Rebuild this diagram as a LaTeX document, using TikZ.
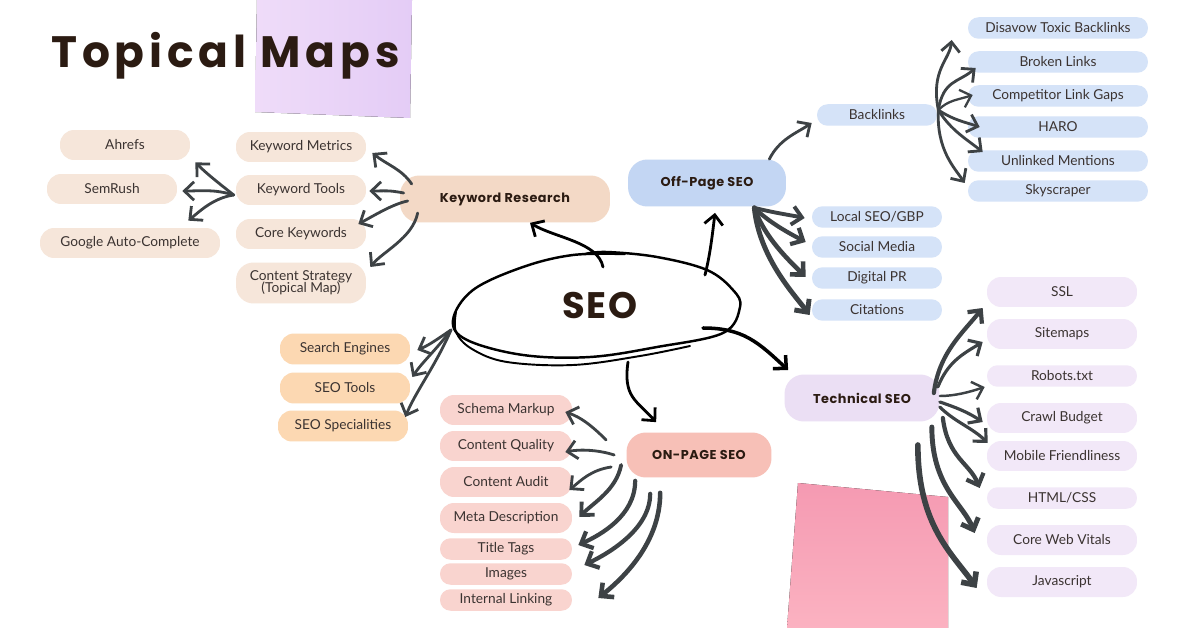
\documentclass[tikz,border=0pt]{standalone}
\usepackage{fontspec}
\setmainfont{Lato}
\newfontfamily\popfont[LetterSpace=4]{Poppins}
\newfontfamily\headfont[LetterSpace=11]{Poppins}
\usetikzlibrary{arrows.meta,shapes.geometric}
\definecolor{cInk}{HTML}{2B1B12}
\definecolor{cTxt}{HTML}{3B3331}
\definecolor{cArr}{HTML}{3D4245}
\definecolor{cKw}{HTML}{F3D9C6}
\definecolor{cKwI}{HTML}{F6E6DA}
\definecolor{cOrg}{HTML}{FCD8B2}
\definecolor{cOff}{HTML}{C3D6F3}
\definecolor{cOffI}{HTML}{D5E3F8}
\definecolor{cTec}{HTML}{EBDFF4}
\definecolor{cTecI}{HTML}{F2E8F8}
\definecolor{cOn}{HTML}{F7C0B7}
\definecolor{cOnI}{HTML}{F9D4CF}
\definecolor{cLilacL}{HTML}{EFDCF9}
\definecolor{cLilacR}{HTML}{E4CCF6}
\definecolor{cRoseT}{HTML}{F59AB2}
\definecolor{cRoseB}{HTML}{FBB2C1}

\begin{document}
\begin{tikzpicture}[x=0.02cm, y=-0.02cm,
  font=\fontsize{7.8}{8}\selectfont,
  pill/.style  = {rounded corners=8pt, minimum height=6mm, inner sep=1pt, text=cTxt},
  rowS/.style  = {minimum height=4.3mm, rounded corners=6pt},
  hub/.style   = {rounded corners=11pt, minimum height=9.4mm, inner sep=1pt,
                  font=\popfont\bfseries\fontsize{7.3}{8}\selectfont, text=cInk},
  ar/.style    = {-{Straight Barb[length=5.5pt,width=10.5pt]}, draw=cArr, line width=1.6pt,
                  line cap=round, line join=round},
  bk/.style    = {ar, draw=black},
]
\useasboundingbox[fill=white] (0,0) rectangle (1200,628);

% sticky notes
\fill[left color=cLilacL, right color=cLilacR] (257,0) -- (412,0) -- (410,118) -- (255,112) -- cycle;
\fill[top color=cRoseT, bottom color=cRoseB] (798,483) -- (948,497) -- (948,628) -- (787,628) -- cycle;

\node[anchor=base west, inner sep=0, text=cInk,
      font=\headfont\bfseries\fontsize{25}{28}\selectfont] (ttl) at (51,68) {Topical Maps};

% centre
\node[ellipse, minimum width=5.8cm, minimum height=1.8cm, text=cInk,
      font=\popfont\bfseries\fontsize{21}{22}\selectfont] (seo) at (600,305) {SEO};
\draw[line width=1.4pt, line cap=round] plot[smooth, tension=0.6] coordinates {
  (625,254) (573,255) (523,267) (473,290) (453,320) (467,340) (523,355) (590,357)
  (657,347) (723,333) (740,307) (733,290) (707,270) (657,257) (607,252) (585,254)};
\draw[line width=1.1pt, line cap=round] plot[smooth, tension=0.6] coordinates {
  (456,312) (456,332) (472,349) (507,362) (573,365) (640,356) (690,346)};

% hubs
\node[hub, fill=cKw,  minimum width=4.2cm]  (kr)     at (505,199) {Keyword Research};
\node[hub, fill=cOff, minimum width=3.16cm] (off)    at (707,183) {Off-Page SEO};
\node[hub, fill=cTec, minimum width=3.1cm]  (tech)   at (862,398) {Technical SEO};
\node[hub, fill=cOn,  minimum width=2.9cm, minimum height=9mm] (onpage) at (699,455) {ON-PAGE SEO};

% keyword research
\foreach \n/\y/\t in {kmet/147/Keyword Metrics, ktool/190/Keyword Tools, kcore/234/Core Keywords}
  \node[pill, fill=cKwI, minimum width=2.6cm] (\n) at (301,\y) {\t};
\node[pill, fill=cKwI, minimum width=2.6cm, minimum height=8.2mm, rounded corners=10pt,
      align=center] (kstrat) at (301,283) {Content Strategy\\[-1pt](Topical Map)};
\foreach \n/\x/\y/\w/\t in {ahrefs/125/145/2.6/Ahrefs, semrush/112/189/2.6/SemRush,
                            google/130/243/3.6/Google Auto-Complete}
  \node[pill, fill=cKwI, minimum width=\w cm] (\n) at (\x,\y) {\t};

% search basics
\foreach \n/\x/\y/\t in {search/345/349/Search Engines, seotools/345/388/SEO Tools, special/343/426/SEO Specialities}
  \node[pill, fill=cOrg, minimum width=2.6cm, minimum height=6.2mm] (\n) at (\x,\y) {\t};

% off-page
\node[pill, rowS, fill=cOffI, minimum width=2.4cm] (backl) at (877,115) {Backlinks};
\foreach \n/\y/\t in {disavow/28/Disavow Toxic Backlinks, broken/62/Broken Links,
                      compet/96/Competitor Link Gaps, haro/127/HARO,
                      unlink/161/Unlinked Mentions, sky/191/Skyscraper}
  \node[pill, rowS, fill=cOffI, minimum width=3.6cm] (\n) at (1058,\y) {\t};
\foreach \n/\y/\t in {local/217/{Local SEO/GBP}, social/247/Social Media,
                      digital/278/Digital PR, cites/310/Citations}
  \node[pill, rowS, fill=cOffI, minimum width=2.6cm] (\n) at (877,\y) {\t};

% technical
\foreach \n/\y/\s/\t in {ssl/292/pill/SSL, sitemaps/334/pill/Sitemaps, robots/376/rowS/Robots.txt,
                         crawl/418/pill/Crawl Budget, mobile/456/pill/Mobile Friendliness,
                         html/498/rowS/{HTML/CSS}, cwv/540/pill/Core Web Vitals, js/582/pill/Javascript}
  \node[pill, \s, fill=cTecI, minimum width=3cm] (\n) at (1062,\y) {\t};

% on-page
\foreach \n/\y/\s/\t in {schema/410/pill/Schema Markup, quality/446/pill/Content Quality,
                         audit/482/pill/Content Audit, meta/518/pill/Meta Description,
                         ttags/549/rowS/Title Tags, images/574/rowS/Images, intlink/600/rowS/Internal Linking}
  \node[pill, \s, fill=cOnI, minimum width=2.64cm] (\n) at (506,\y) {\t};

% arrows out of the centre
\draw[bk] ([shift={(3,-38)}]seo.center) .. controls +(-5,-25) and +(25,15) .. ([shift={(25,0)}]kr.south);
\draw[bk] ([shift={(105,-30)}]seo.center) .. controls +(5,-20) and +(-3,25) .. ([shift={(8,6)}]off.south);
\draw[bk, line width=2pt] ([shift={(103,23)}]seo.center) .. controls +(40,0) and +(-30,-28) .. ([shift={(4,-4)}]tech.north west);
\draw[bk] ([shift={(28,57)}]seo.center) .. controls +(-5,35) and +(-20,-22) .. ([shift={(30,-10)}]onpage.north west);
\draw[ar] ([shift={(-149,25)}]seo.center) .. controls +(-15,10) and +(12,-5) .. ([shift={(7,1)}]search.east);
\draw[ar] ([shift={(-149,25)}]seo.center) .. controls +(-15,20) and +(10,-15) .. ([shift={(2,-11)}]seotools.east);
\draw[ar] ([shift={(-149,25)}]seo.center) .. controls +(-15,35) and +(10,-25) .. ([shift={(-3,-9)}]special.east);

% keyword research
\draw[ar] ([shift={(12,-15)}]kr.west) .. controls +(-10,-15) and +(15,12) .. ([shift={(6,6)}]kmet.east);
\draw[ar] ([shift={(4,-6)}]kr.west) .. controls +(-15,-3) and +(15,0) .. ([shift={(3,1)}]ktool.east);
\draw[ar] ([shift={(8,2)}]kr.west) .. controls +(-15,3) and +(15,-8) .. ([shift={(-8,-10)}]kcore.east);
\draw[ar] ([shift={(18,14)}]kr.west) .. controls +(-5,25) and +(12,-15) .. ([shift={(4,-16)}]kstrat.east);
\draw[ar] ([shift={(-2,5)}]ktool.west) .. controls +(-15,-12) and +(12,12) .. ([shift={(5,2)}]ahrefs.south east);
\draw[ar] ([shift={(-2,5)}]ktool.west) .. controls +(-20,-6) and +(20,0) .. ([shift={(5,2)}]semrush.east);
\draw[ar] ([shift={(-2,5)}]ktool.west) .. controls +(-20,3) and +(12,-10) .. ([shift={(-32,-7)}]google.north east);

% off-page
\draw[ar] ([shift={(-17,0)}]off.north east) .. controls +(10,-20) and +(-15,10) .. ([shift={(-5,8)}]backl.west);
\draw[ar] ([shift={(1,-5)}]backl.east) .. controls +(-8,-40) and +(-2,20) .. ([shift={(-16,12)}]disavow.west);
\draw[ar] ([shift={(1,-5)}]backl.east) .. controls +(5,-30) and +(-18,15) .. ([shift={(8,6)}]broken.west);
\draw[ar, line width=1.3pt] ([shift={(1,-5)}]backl.east) .. controls +(10,-10) and +(-15,5) .. ([shift={(5,-1)}]compet.west);
\draw[ar] ([shift={(1,-5)}]backl.east) .. controls +(15,10) and +(-15,-5) .. ([shift={(12,0)}]haro.west);
\draw[ar] ([shift={(1,-5)}]backl.east) .. controls +(12,20) and +(-15,-12) .. ([shift={(15,-9)}]unlink.west);
\draw[ar] ([shift={(1,-5)}]backl.east) .. controls +(-2,40) and +(-10,-15) .. ([shift={(-3,-8)}]sky.west);
\draw[ar, line width=2.2pt] ([shift={(-32,1)}]off.south east) .. controls +(20,5) and +(-15,-3) .. ([shift={(-7,1)}]local.west);
\draw[ar, line width=2.4pt] ([shift={(-32,1)}]off.south east) .. controls +(15,15) and +(-15,-8) .. ([shift={(-6,-5)}]social.west);
\draw[ar, line width=2.6pt] ([shift={(-32,1)}]off.south east) .. controls +(10,30) and +(-15,-15) .. ([shift={(-6,-1)}]digital.west);
\draw[ar, line width=2.8pt] ([shift={(-32,1)}]off.south east) .. controls +(5,50) and +(-15,-20) .. ([shift={(-2,5)}]cites.west);

% technical
\draw[ar, line width=2.4pt] ([shift={(-6,-5)}]tech.east) .. controls +(5,-40) and +(-20,25) .. ([shift={(-4,16)}]ssl.west);
\draw[ar, line width=1.8pt] ([shift={(-2,-11)}]tech.east) .. controls +(10,-25) and +(-20,12) .. ([shift={(-4,8)}]sitemaps.west);
\draw[ar, line width=1.4pt] ([shift={(0,-2)}]tech.east) .. controls +(15,0) and +(-15,5) .. ([shift={(-2,11)}]robots.west);
\draw[ar, line width=1.8pt] ([shift={(0,4)}]tech.east) .. controls +(15,5) and +(-15,-10) .. ([shift={(-4,4)}]crawl.west);
\draw[ar, line width=1.8pt] ([shift={(0,9)}]tech.east) .. controls +(15,15) and +(-15,-15) .. ([shift={(1,-13)}]mobile.west);
\draw[ar, line width=2.4pt] ([shift={(3,20)}]tech.east) .. controls +(5,40) and +(-10,-25) .. ([shift={(-7,-10)}]html.west);
\draw[ar, line width=2.8pt] ([shift={(-8,29)}]tech.east) .. controls +(0,60) and +(-12,-30) .. ([shift={(-12,-7)}]cwv.west);
\draw[ar, line width=3.2pt] ([shift={(-22,47)}]tech.east) .. controls +(0,80) and +(-25,-35) .. ([shift={(-10,6)}]js.west);

% on-page
\draw[ar] ([shift={(-20,-15)}]onpage.west) .. controls +(-15,-15) and +(15,5) .. ([shift={(-7,2)}]schema.east);
\draw[ar] ([shift={(-12,0)}]onpage.west) .. controls +(-15,-5) and +(15,-3) .. ([shift={(-7,6)}]quality.east);
\draw[ar] ([shift={(-15,12)}]onpage.west) .. controls +(-20,3) and +(12,-10) .. ([shift={(-3,8)}]audit.east);
\draw[ar, line width=2.2pt] ([shift={(-5,10)}]onpage.west) .. controls +(-5,25) and +(15,-15) .. ([shift={(7,-1)}]meta.east);
\draw[ar, line width=2.4pt] ([shift={(9,3)}]onpage.south west) .. controls +(0,35) and +(22,-10) .. ([shift={(6,-4)}]ttags.east);
\draw[ar, line width=2.4pt] ([shift={(24,16)}]onpage.south west) .. controls +(0,35) and +(25,-12) .. ([shift={(12,-9)}]images.east);
\draw[ar, line width=2.6pt] ([shift={(34,15)}]onpage.south west) .. controls +(0,50) and +(25,-20) .. ([shift={(26,-2)}]intlink.east);
\end{tikzpicture}
\end{document}
